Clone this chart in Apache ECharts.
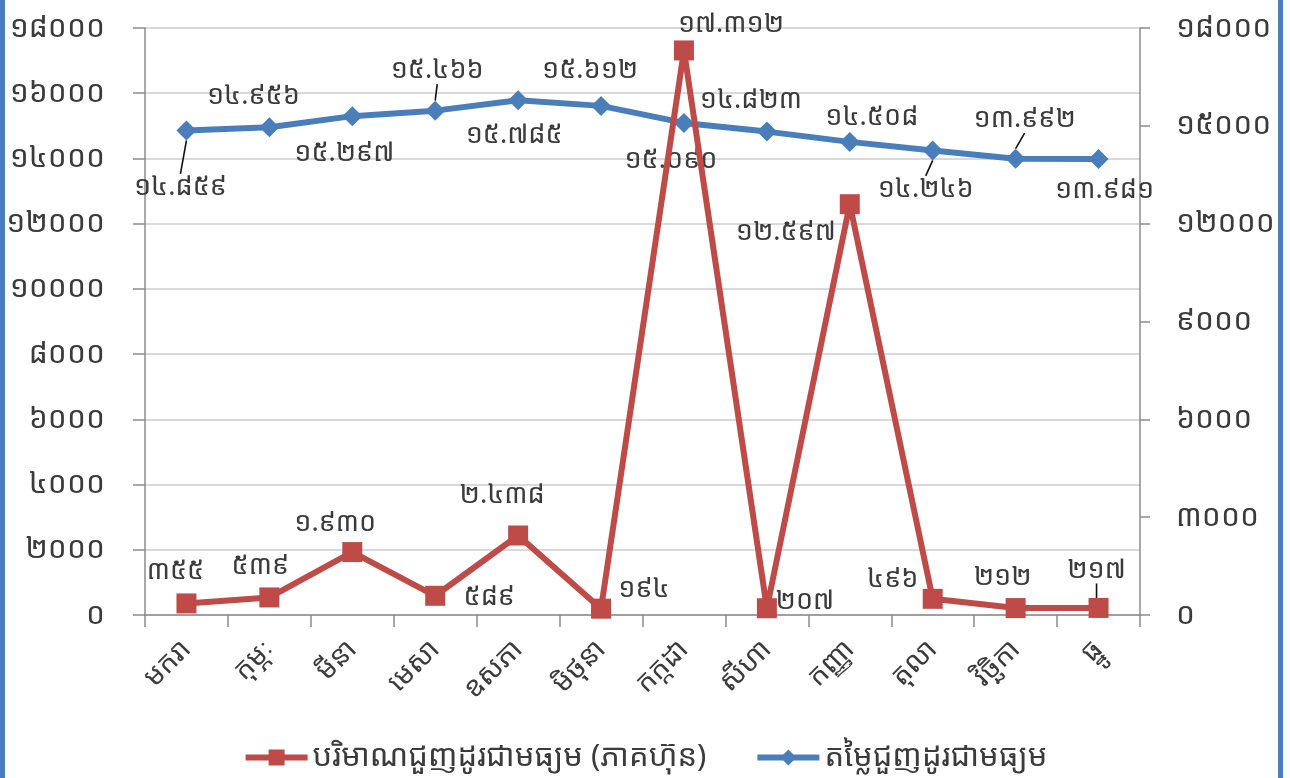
<!DOCTYPE html>
<html>
<head>
<meta charset="utf-8">
<script src="https://cdn.jsdelivr.net/npm/echarts@6/dist/echarts.min.js"></script>
<style>
html,body{margin:0;padding:0;background:#fff;}
#wrap{position:relative;width:1290px;height:778px;overflow:hidden;}
#chart{width:1290px;height:778px;}
.bar{position:absolute;top:0;width:5px;height:778px;background:#4a7ebb;}
</style>
</head>
<body>
<div id="wrap">
<div id="chart"></div>
<div class="bar" style="left:0"></div>
<div class="bar" style="left:1278px"></div>
</div>
<script>
// ---- data ----
var months = ['មករា','កុម្ភៈ','មីនា','មេសា','ឧសភា','មិថុនា','កក្កដា','សីហា','កញ្ញា','តុលា','វិច្ឆិកា','ធ្នូ'];
var volumeName = 'បរិមាណជួញដូរជាមធ្យម (ភាគហ៊ុន)';
var priceName = 'តម្លៃជួញដូរជាមធ្យម';
var volume = [355, 539, 1930, 589, 2438, 194, 17312, 207, 12597, 496, 212, 217];
var price = [14859, 14956, 15297, 15466, 15785, 15612, 15090, 14823, 14508, 14246, 13992, 13981];
var leftTicks = [0, 2000, 4000, 6000, 8000, 10000, 12000, 14000, 16000, 18000];
var rightTicks = [0, 3000, 6000, 9000, 12000, 15000, 18000];

// ---- label placement (style, offsets in px from point centre) ----
var volumeLabelOffsets = [[-11,-32],[-9,-31],[-17,-29],[54,2],[-16,-40],[43,-19],[47,-26],[38,-7],[-64,28],[-40,-20],[-13,-31],[-2,-38]];
var priceLabelOffsets = [[-6,57],[-16,-31],[-8,37],[2,-40],[-4,35],[-11,-36],[-13,37],[-16,-31],[22,-25],[-7,39],[9,-39],[6,31]];
var volumeLeaders = [11];
var priceLeaders = [0, 3, 9, 10];

var KH = ['០','១','២','៣','៤','៥','៦','៧','៨','៩'];
function toKh(s){ return String(s).replace(/[0-9]/g, function(d){ return KH[+d]; }); }
function fmtSep(v){ return toKh(String(v).replace(/\B(?=(\d{3})+(?!\d))/g, '.')); }

var FONT = '"Noto Sans Khmer","Khmer OS","Khmer OS System","Noto Serif Khmer","Noto Sans",sans-serif';
var TXT = '#3b3b3b';

function build(values, leaders){
  return values.map(function(v, i){
    var item = {value: v};
    if (leaders.indexOf(i) >= 0) {
      item.labelLine = {show: true, lineStyle: {color: '#111', width: 1.6}};
    }
    return item;
  });
}
function layoutFrom(offsets){
  return function(p){
    var o = offsets[p.dataIndex] || [0,0];
    return {dx: o[0], dy: o[1]};
  };
}

var chart = echarts.init(document.getElementById('chart'), null, {renderer:'canvas'});
chart.setOption({
  animation: false,
  textStyle: {fontFamily: FONT},
  grid: {left: 145, right: 150, top: 28, bottom: 163, containLabel: false},
  legend: {
    data: [volumeName, priceName],
    bottom: 0, left: 'center',
    itemWidth: 62, itemHeight: 20, itemGap: 48,
    lineStyle: {width: 6},
    textStyle: {fontSize: 31, color: TXT, fontFamily: FONT}
  },
  xAxis: {
    type: 'category', data: months, boundaryGap: true,
    axisLine: {lineStyle: {color: '#8c8c8c', width: 1.5}},
    axisTick: {show: true, length: 12, alignWithLabel: false, lineStyle: {color: '#8c8c8c', width: 1.5}},
    axisLabel: {rotate: 45, fontSize: 28, color: TXT, margin: 30, fontFamily: FONT, interval: 0}
  },
  yAxis: [{
    type: 'value', min: leftTicks[0], max: leftTicks[leftTicks.length-1], interval: leftTicks[1]-leftTicks[0],
    position: 'left',
    axisLine: {show: true, lineStyle: {color: '#8c8c8c', width: 1.5}},
    axisTick: {show: true, length: 12, inside: false, lineStyle: {color: '#8c8c8c', width: 1.5}},
    splitLine: {show: true, lineStyle: {color: '#d9d9d9', width: 2}},
    axisLabel: {fontSize: 30, color: TXT, margin: 40, fontFamily: FONT, formatter: function(v){ return toKh(v); }}
  },{
    type: 'value', min: rightTicks[0], max: rightTicks[rightTicks.length-1], interval: rightTicks[1]-rightTicks[0],
    position: 'right',
    axisLine: {show: true, lineStyle: {color: '#8c8c8c', width: 1.5}},
    axisTick: {show: true, length: 10, inside: false, lineStyle: {color: '#8c8c8c', width: 1.5}},
    splitLine: {show: false},
    axisLabel: {fontSize: 30, color: TXT, margin: 36, fontFamily: FONT, formatter: function(v){ return toKh(v); }}
  }],
  series: [{
    name: priceName, type: 'line', yAxisIndex: 1, z: 2,
    data: build(price, priceLeaders),
    symbol: 'diamond', symbolSize: 20,
    lineStyle: {color: '#4a7ebb', width: 6},
    itemStyle: {color: '#4a7ebb'},
    label: {show: true, position: 'inside', fontSize: 27, color: TXT, fontFamily: FONT,
      formatter: function(p){ return fmtSep(p.value); }},
    labelLayout: layoutFrom(priceLabelOffsets)
  },{
    name: volumeName, type: 'line', yAxisIndex: 0, z: 3,
    data: build(volume, volumeLeaders),
    symbol: 'rect', symbolSize: 20,
    lineStyle: {color: '#be4b48', width: 6},
    itemStyle: {color: '#be4b48'},
    label: {show: true, position: 'inside', fontSize: 27, color: TXT, fontFamily: FONT,
      formatter: function(p){ return fmtSep(p.value); }},
    labelLayout: layoutFrom(volumeLabelOffsets)
  }]
});
</script>
</body>
</html>
